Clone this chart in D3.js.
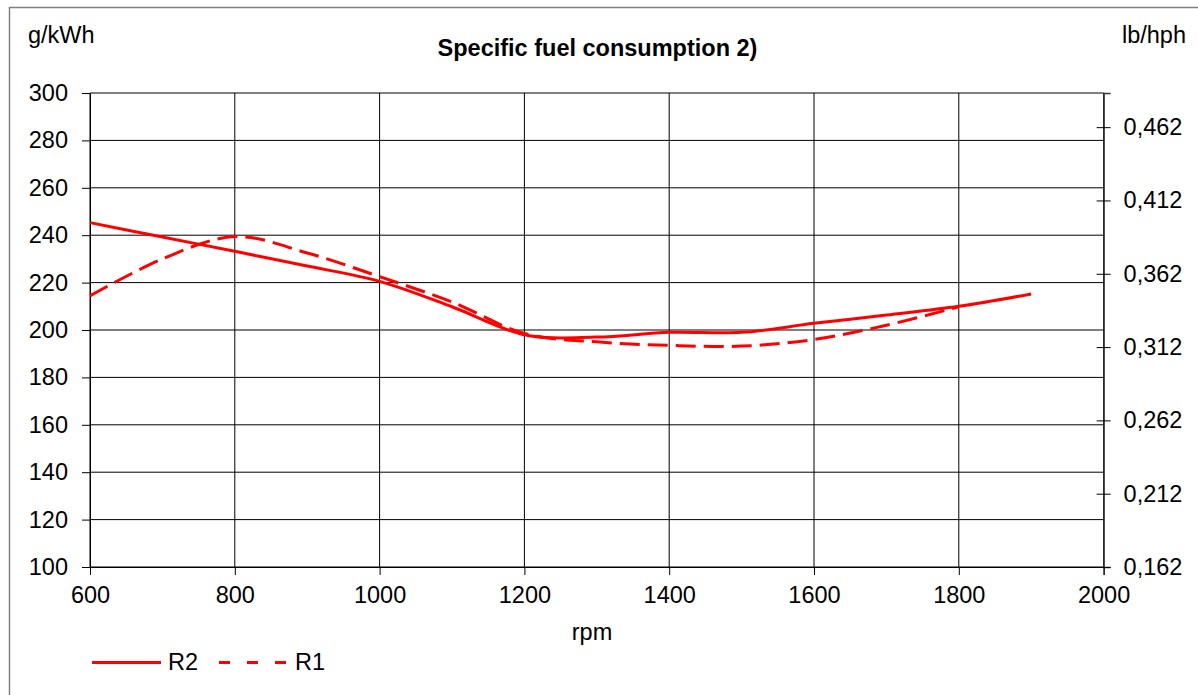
<!DOCTYPE html>
<html><head><meta charset="utf-8">
<script src="https://cdn.jsdelivr.net/npm/d3@7"></script>
<style>
html,body{margin:0;padding:0;background:#fff;}
text{font-family:"Liberation Sans",Arial,sans-serif;fill:#000;}
</style></head>
<body>
<svg id="chart" width="1198" height="695"></svg>
<script>
// ---- data ----
const rpmR2 = [600,700,800,900,1000,1100,1200,1300,1400,1500,1600,1700,1800,1900];
const valuesR2 = [245.3,239.2,233.2,227,220.5,209.8,198,197,199,199,202.8,206.3,210,215.2];
const rpmR1 = [600,700,800,900,1000,1100,1200,1300,1400,1500,1600,1700,1800];
const valuesR1 = [214.4,230,239.4,232.5,222.5,211.8,198.5,195,193.5,193.2,196,202,209.8];
const xTicks = [600,800,1000,1200,1400,1600,1800,2000];
const yTicks = [100,120,140,160,180,200,220,240,260,280,300];
const yRightTicks = [0.162,0.212,0.262,0.312,0.362,0.412,0.462];
const seriesNames = ["R2","R1"];
const title = "Specific fuel consumption 2)";

const svg = d3.select("#chart");
const L = 90, R = 1103.6, T = 93, B = 567;
const FS = "23.5px";
const x = d3.scaleLinear().domain([600,2000]).range([L,R]);
const y = d3.scaleLinear().domain([100,300]).range([B,T]);
const y2 = d3.scaleLinear().domain([0.162,0.4853]).range([B,T]);

// frame
svg.append("path").attr("d","M9.5,700 L9.5,7.5 L1205,7.5").attr("fill","none")
  .attr("stroke","#808080").attr("stroke-width",1.5);

// gridlines
svg.append("g").selectAll("line").data(yTicks).join("line")
  .attr("x1",L).attr("x2",R).attr("y1",d=>y(d)).attr("y2",d=>y(d))
  .attr("stroke","#000").attr("stroke-width",1);
svg.append("g").selectAll("line").data(xTicks).join("line")
  .attr("x1",d=>x(d)).attr("x2",d=>x(d)).attr("y1",T).attr("y2",B)
  .attr("stroke","#000").attr("stroke-width",1);

// left axis
const ax = svg.append("g").attr("transform",`translate(${L},0)`)
  .call(d3.axisLeft(y).tickValues(yTicks).tickSize(8).tickPadding(14).tickFormat(d3.format("d")));
ax.select(".domain").attr("stroke","#000");
ax.selectAll("text").style("font-size",FS);
// bottom axis
const bx = svg.append("g").attr("transform",`translate(0,${B})`)
  .call(d3.axisBottom(x).tickValues(xTicks).tickSize(8).tickPadding(11).tickFormat(d3.format("d")));
bx.select(".domain").attr("stroke","#000");
bx.selectAll("text").style("font-size",FS);
// right axis
const rx = svg.append("g").attr("transform",`translate(${R},0)`)
  .call(d3.axisRight(y2).tickValues(yRightTicks).tickSize(7).tickPadding(13)
    .tickFormat(d=>d3.format(".3f")(d).replace(".",",")));
rx.select(".domain").attr("stroke","#333").attr("stroke-width",1.5);
rx.selectAll(".tick line").attr("x1",-7);
rx.selectAll("text").style("font-size",FS);
svg.selectAll(".tick line").attr("stroke","#000");

// lines
const line = d3.line().curve(d3.curveCardinal.tension(0));
svg.append("path")
  .attr("d", line(rpmR2.map((r,i)=>[x(r),y(valuesR2[i])])))
  .attr("fill","none").attr("stroke","#ff0000").attr("stroke-width",3);
svg.append("path")
  .attr("d", line(rpmR1.map((r,i)=>[x(r),y(valuesR1[i])])))
  .attr("fill","none").attr("stroke","#ff0000").attr("stroke-width",3)
  .attr("stroke-dasharray","20,8");

// texts
svg.append("text").attr("x",28).attr("y",43).style("font-size",FS).text("g/kWh");
svg.append("text").attr("x",1186).attr("y",43).attr("text-anchor","end").style("font-size",FS).text("lb/hph");
svg.append("text").attr("x",597.5).attr("y",56).attr("text-anchor","middle")
  .style("font-size",FS).style("font-weight","bold").text(title);
svg.append("text").attr("x",592).attr("y",640).attr("text-anchor","middle").style("font-size",FS).text("rpm");

// legend
const leg = [{x1:92,x2:161,tx:168,dash:null},{x1:219,x2:289,tx:295,dash:"11,17"}];
leg.forEach((l,i)=>{
  svg.append("line").attr("x1",l.x1).attr("x2",l.x2).attr("y1",662.5).attr("y2",662.5)
    .attr("stroke","#ff0000").attr("stroke-width",3).attr("stroke-dasharray",l.dash);
  svg.append("text").attr("x",l.tx).attr("y",670).style("font-size",FS).text(seriesNames[i]);
});
</script>
</body></html>
